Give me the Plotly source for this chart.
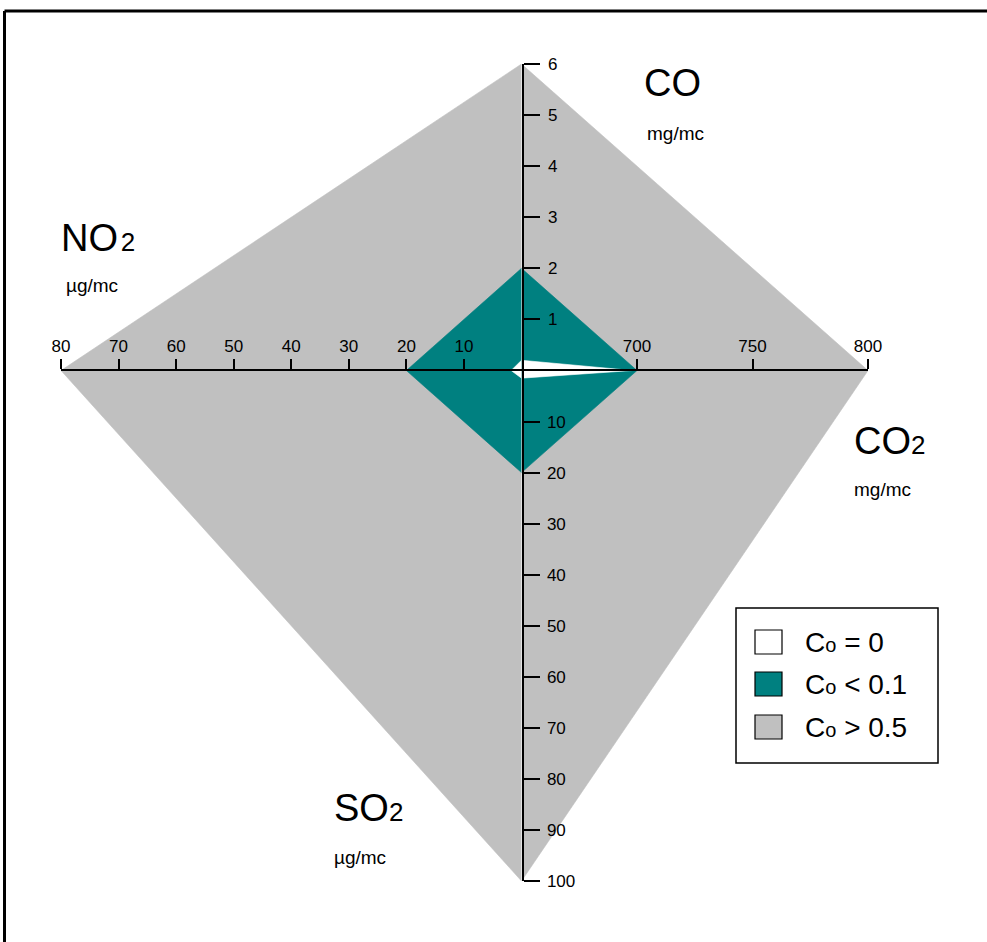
import plotly.graph_objects as go

# ---------------- data ----------------
axis_units = ["mg/mc", "mg/mc", "µg/mc", "µg/mc"]

co_ticks = [1, 2, 3, 4, 5, 6]
co2_ticks = [700, 750, 800]
no2_ticks = [10, 20, 30, 40, 50, 60, 70, 80]
so2_ticks = [10, 20, 30, 40, 50, 60, 70, 80, 90, 100]

# axis ranges (origin -> end)
co_range = [0, 6]
co2_range = [650, 800]
no2_range = [0, 80]
so2_range = [0, 100]

# class polygons: values on each axis
class_labels = ["C<span style='font-size:20px'>o</span> = 0",
                "C<span style='font-size:20px'>o</span> < 0.1",
                "C<span style='font-size:20px'>o</span> > 0.5"]
class_colors = ["#FFFFFF", "#008080", "#C0C0C0"]
co_vals = [0.2, 2, 6]
co2_vals = [698, 700, 800]
so2_vals = [1.5, 20, 100]
no2_vals = [1.8, 20, 80]

# ---------------- layout geometry (pixels) ----------------
W, H = 987, 942
cx, cy = 521.5, 370.5
x_right, x_left = 868, 61
y_top, y_bot = 64, 881


def px(x):
    return x / W


def py(y):
    return 1 - y / H


fig = go.Figure()

# draw polygons quadrant by quadrant, largest first
order = [2, 1, 0]
for i in order:
    col = class_colors[i]
    quads = [
        ("x", "y", [co2_range[0], co2_vals[i], co2_range[0]], [0, 0, co_vals[i]]),
        ("x2", "y", [no2_range[0], no2_vals[i], no2_range[0]], [0, 0, co_vals[i]]),
        ("x2", "y2", [no2_range[0], no2_vals[i], no2_range[0]], [0, 0, so2_vals[i]]),
        ("x", "y2", [co2_range[0], co2_vals[i], co2_range[0]], [0, 0, so2_vals[i]]),
    ]
    for xa, ya, xs, ys in quads:
        fig.add_trace(go.Scatter(
            x=xs, y=ys, xaxis=xa, yaxis=ya, mode="lines", fill="toself",
            fillcolor=col, line=dict(width=0.6, color=col),
            hoverinfo="skip", showlegend=False, cliponaxis=False))

font = "Liberation Sans, Arial, sans-serif"
tickfont = dict(family=font, size=17, color="black")
common = dict(showgrid=False, zeroline=False, showline=True, linecolor="black",
              linewidth=2, ticks="outside", tickcolor="black", tickwidth=2,
              tickfont=tickfont, fixedrange=True, tickmode="array", automargin=False)

fig.update_layout(
    width=W, height=H, margin=dict(l=0, r=0, t=0, b=0, autoexpand=False),
    paper_bgcolor="white", plot_bgcolor="rgba(0,0,0,0)",
    showlegend=False,
    xaxis=dict(domain=[px(cx), px(x_right)], range=co2_range, anchor="y2", side="top",
               tickvals=co2_ticks, ticktext=[str(v) for v in co2_ticks], ticklen=10, **common),
    xaxis2=dict(domain=[px(x_left), px(cx)], range=no2_range[::-1], anchor="y2", side="top",
                tickvals=no2_ticks, ticktext=[str(v) for v in no2_ticks], ticklen=10, **common),
    yaxis=dict(domain=[py(cy), py(y_top)], range=co_range, anchor="x2", side="right",
               tickvals=co_ticks, ticktext=[str(v) for v in co_ticks], ticklen=16,
               ticklabelstandoff=5, **common),
    yaxis2=dict(domain=[py(y_bot), py(cy)], range=so2_range[::-1], anchor="x2", side="right",
                tickvals=so2_ticks, ticktext=[str(v) for v in so2_ticks], ticklen=16,
                ticklabelstandoff=4, **common),
)

big = 38

# axis titles
titles = [
    ("CO", 672, 83, "center"),
    ("CO<span style='font-size:26px'>2</span>", 852, 441, "left"),
    ("SO<span style='font-size:26px'>2</span>", 332, 808, "left"),
    ("NO<span style='font-size:10px'> </span><span style='font-size:26px'>2</span>", 59, 238, "left"),
]
units_pos = [(675, 134, "center"), (852, 489, "left"), (332, 857, "left"), (64, 285, "left")]
for (t, x, y, xa), u, (ux, uy, uxa) in zip(titles, axis_units, units_pos):
    fig.add_annotation(text=t, x=px(x), y=py(y), xref="paper", yref="paper",
                       xanchor=xa, yanchor="middle", showarrow=False,
                       font=dict(family=font, size=big, color="black"))
    fig.add_annotation(text=u, x=px(ux), y=py(uy), xref="paper", yref="paper",
                       xanchor=uxa, yanchor="middle", showarrow=False,
                       font=dict(family=font, size=19, color="black"))

# legend box
shapes = [
    dict(type="rect", xref="paper", yref="paper", x0=px(736), x1=px(938), y0=py(608), y1=py(763),
         line=dict(color="black", width=1.5), fillcolor="white", layer="above"),
]
row_y = [642, 684, 727]
for lab, col, ry in zip(class_labels, class_colors, row_y):
    shapes.append(dict(type="rect", xref="paper", yref="paper", x0=px(755), x1=px(782),
                       y0=py(ry - 12), y1=py(ry + 12), fillcolor=col,
                       line=dict(color="black", width=1.2), layer="above"))
    fig.add_annotation(text=lab, x=px(803), y=py(ry), xref="paper", yref="paper",
                       xanchor="left", yanchor="middle", showarrow=False,
                       font=dict(family=font, size=28, color="black"))

# outer frame
shapes.append(dict(type="line", xref="paper", yref="paper", x0=px(4.5), x1=1.01, y0=py(11), y1=py(11),
                   line=dict(color="black", width=3), layer="above"))
shapes.append(dict(type="line", xref="paper", yref="paper", x0=px(4.5), x1=px(4.5), y0=py(11), y1=-0.01,
                   line=dict(color="black", width=3), layer="above"))
fig.update_layout(shapes=shapes)

# remove the default page margin so the figure sits at the window origin
js = "document.body.style.margin='0';document.body.style.overflow='hidden';"
fig.write_html("out.html", post_script=js, config={"displayModeBar": False})
